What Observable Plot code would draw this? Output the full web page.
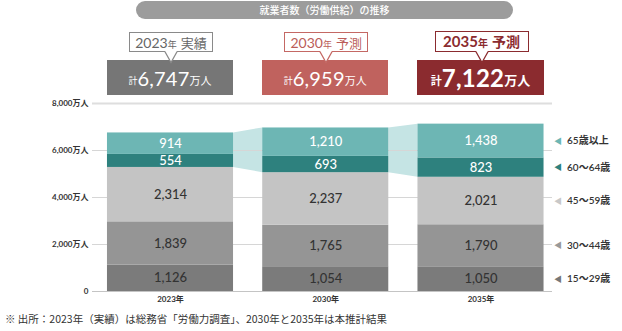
<!DOCTYPE html>
<html><head><meta charset="utf-8">
<script src="https://cdn.jsdelivr.net/npm/d3@7"></script>
<script src="https://cdn.jsdelivr.net/npm/@observablehq/plot@0.6"></script>
<style>
body{margin:0;background:#fff;font-family:Lato,"Noto Sans CJK JP",sans-serif;}
#wrap{position:relative;width:622px;height:331px;overflow:hidden;}
#wrap svg.plot{position:absolute;left:0;top:0;}
.abs{position:absolute;box-sizing:border-box;}
.pill{left:136px;top:1px;width:377px;height:18px;border-radius:9px;background:#9c9c9c;color:#fff;font-size:10px;line-height:18px;text-align:center;font-family:"Noto Sans CJK JP",sans-serif;font-weight:500;}
.lbl{background:#fff;border:1.3px solid;text-align:center;white-space:nowrap;font-family:Lato,"Noto Sans CJK JP",sans-serif;}
.val{color:#fff;text-align:center;white-space:nowrap;display:flex;align-items:center;justify-content:center;}
.foot{left:5px;top:311px;font-size:10.5px;color:#333;font-family:"Noto Sans CJK JP",sans-serif;white-space:nowrap;}
</style></head><body><div id="wrap"></div>
<script>
// ---- data ----
const years = ["2023年", "2030年", "2035年"];
const kinds = ["実績", "予測", "予測"];
const groups = ["15～29歳", "30～44歳", "45～59歳", "60～64歳", "65歳以上"];
const v15_29 = [1126, 1054, 1050];
const v30_44 = [1839, 1765, 1790];
const v45_59 = [2314, 2237, 2021];
const v60_64 = [554, 693, 823];
const v65 = [914, 1210, 1438];
const totals = [6747, 6959, 7122];
const yTicks = [0, 2000, 4000, 6000, 8000];

// ---- styles ----
const segColors = ["#7b7b7b", "#959595", "#c4c4c4", "#2e817e", "#6db6b4"];
const segText = ["#333", "#333", "#333", "#fff", "#fff"];
const triColors = ["#777", "#999", "#c8c8c8", "#2e817e", "#6db6b4"];
const boxColors = ["#767676", "#c0625e", "#8b2b2f"];
const lblBorder = ["#8a8a8a", "#c46864", "#8b2b2f"];
const lblText = ["#666", "#bb5d59", "#8b2b2f"];
const hw = 0.406;

const series = [v15_29, v30_44, v45_59, v60_64, v65];
const segs = [];
years.forEach((yr, i) => {
  let acc = 0;
  series.forEach((s, g) => {
    segs.push({i, g, y1: acc, y2: acc + s[i], v: s[i]});
    acc += s[i];
  });
});
const band = [];
for (let i = 0; i < years.length - 1; i++) {
  const b0 = segs.find(d => d.i === i && d.g === 3), t0 = segs.find(d => d.i === i && d.g === 4);
  const b1 = segs.find(d => d.i === i + 1 && d.g === 3), t1 = segs.find(d => d.i === i + 1 && d.g === 4);
  band.push({gap: i, x: i + hw, y1: b0.y1, y2: t0.y2});
  band.push({gap: i, x: i + 1 - hw, y1: b1.y1, y2: t1.y2});
}
const legendRows = segs.filter(d => d.i === years.length - 1);
const fmt = d3.format(",");

const chart = Plot.plot({
  width: 622, height: 331,
  marginLeft: 92, marginRight: 70, marginTop: 103, marginBottom: 40,
  style: {fontFamily: 'Lato,"Noto Sans CJK JP",sans-serif', background: "transparent"},
  x: {type: "linear", domain: [0, 2], range: [170, 480.5]},
  y: {domain: [0, 8000]},
  marks: [
    Plot.areaY(band, {x: "x", y1: "y1", y2: "y2", z: "gap", fill: "#c5e4e4"}),
    Plot.ruleY(yTicks.filter(d => d > 0 && d < 8000), {stroke: "#d6d6d6", strokeWidth: 1.2}),
    Plot.ruleY([8000], {stroke: "#dedede", strokeWidth: 2}),
    Plot.ruleY([0], {stroke: "#c4c4c4", strokeWidth: 1.2}),
    Plot.rect(segs, {x1: d => d.i - hw, x2: d => d.i + hw, y1: "y1", y2: "y2", fill: d => segColors[d.g]}),
    Plot.text(segs, {x: "i", y: d => (d.y1 + d.y2) / 2, text: d => fmt(d.v), fill: d => segText[d.g], fontSize: 13, fontWeight: 500}),
    Plot.text(legendRows, {x: d => d.i + hw, y: d => (d.y1 + d.y2) / 2, text: () => "◀", dx: 14, fill: d => triColors[d.g], fontSize: 8}),
    Plot.text(legendRows, {x: d => d.i + hw, y: d => (d.y1 + d.y2) / 2, text: d => groups[d.g], dx: 23, textAnchor: "start", fill: "#333", fontSize: 10, fontWeight: 600}),
    Plot.axisY(yTicks, {tickSize: 0, tickPadding: 4, tickFormat: d => d === 0 ? "0" : fmt(d) + "万人", fontSize: 8, fontWeight: 700, fill: "#333", label: null}),
    Plot.axisX([0, 1, 2], {tickSize: 0, tickPadding: 5, tickFormat: i => years[i], fontSize: 8, fontWeight: 700, fill: "#333", label: null})
  ]
});
chart.classList.add("plot");
const wrap = document.getElementById("wrap");
wrap.appendChild(chart);

const xs = chart.scale("x");
const add = (cls, css, html) => {
  const el = document.createElement("div");
  el.className = "abs " + cls;
  Object.assign(el.style, css);
  if (html != null) el.innerHTML = html;
  wrap.appendChild(el);
  return el;
};
add("pill", {}, "就業者数（労働供給）の推移");
years.forEach((yr, i) => {
  const L = xs.apply(i - hw), R = xs.apply(i + hw), C = xs.apply(i);
  const big = i === 2;
  const num = fmt(totals[i]);
  add("val", {left: L + "px", top: "60px", width: (R - L) + "px", height: "35px", background: boxColors[i]},
    `<span style="font-size:${big ? 11 : 9}px;font-weight:${big ? 700 : 400};font-family:'Noto Sans CJK JP';margin-top:5px">計</span>` +
    `<span style="font-size:${big ? 24 : 20}px;font-weight:${big ? 700 : 400};letter-spacing:0.2px">${num}</span>` +
    `<span style="font-size:${big ? 13 : 11}px;font-weight:${big ? 700 : 400};font-family:'Noto Sans CJK JP';margin-top:4px">万人</span>`);
  const lw = big ? 94 : 84;
  const lt = big ? 31 : 32, lh = big ? 21 : 20;
  add("lbl", {left: (C + 1 - lw / 2) + "px", top: lt + "px", width: lw + "px", height: lh + "px", borderColor: lblBorder[i], color: lblText[i], lineHeight: (lh - 3) + "px"},
    `<span style="font-size:${big ? 15 : 14}px;font-weight:${big ? 700 : 400}">${yr.replace("年", "")}</span>` +
    `<span style="font-size:${big ? 10 : 9}px;font-weight:${big ? 700 : 400};font-family:'Noto Sans CJK JP'">年</span>` +
    `<span style="font-size:${big ? 14 : 13}px;font-weight:${big ? 700 : 400};font-family:'Noto Sans CJK JP';margin-left:4px">${kinds[i]}</span>`);
  const ptr = add("", {left: (C + 1 - 7) + "px", top: (lt + lh - 1.5) + "px", width: "14px", height: "13px"});
  ptr.innerHTML = `<svg width="14" height="13" style="display:block"><polygon points="1,0 13,0 7,11.5" fill="#fff"/><polyline points="1,0.7 7,11.5 13,0.7" fill="none" stroke="${lblBorder[i]}" stroke-width="1.3"/></svg>`;
});
add("foot", {}, "※ 出所：2023年（実績）は総務省「労働力調査」、2030年と2035年は本推計結果");
</script></body></html>
